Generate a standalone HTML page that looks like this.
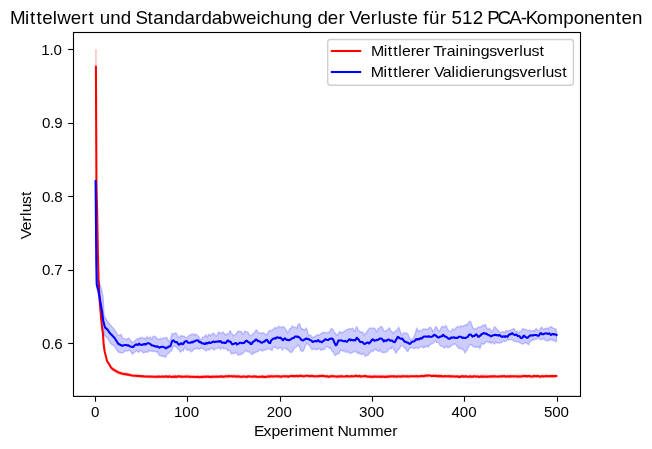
<!DOCTYPE html>
<html><head><meta charset="utf-8"><style>
html,body{margin:0;padding:0;background:#fff;width:652px;height:449px;overflow:hidden;position:relative}
svg text{font-family:"Liberation Sans",sans-serif} svg{will-change:transform}
</style></head><body>
<svg width="652" height="449" viewBox="0 0 652 449" style="position:absolute;left:0;top:0">
<rect x="0" y="0" width="652" height="449" fill="#ffffff"/>
<defs><clipPath id="ax"><rect x="73.5" y="32.5" width="507.0" height="363.9"/></clipPath></defs>
<g clip-path="url(#ax)">
<polygon points="95.00,49.13 96.90,49.13 96.45,177.31 97.20,211.35 97.90,252.92 98.60,277.98 99.60,297.68 101.07,316.17 102.00,325.33 102.90,330.89 103.70,343.50 104.77,350.40 106.00,354.53 107.00,359.10 109.00,362.46 111.00,365.32 113.10,367.20 117.80,370.26 122.50,371.67 128.00,372.45 131.80,373.89 144.10,374.72 156.30,375.15 157.22,374.85 158.15,375.05 159.07,374.27 160.00,375.15 160.92,375.10 161.84,374.46 162.77,374.80 163.69,374.89 164.62,374.39 165.54,374.67 166.46,374.50 167.39,374.77 168.31,374.78 169.24,374.54 170.16,374.30 171.08,374.71 172.01,374.92 172.93,374.62 173.85,374.29 174.78,375.26 175.70,374.54 176.63,375.29 177.55,374.51 178.47,374.86 179.40,374.79 180.32,374.53 181.25,375.30 182.17,374.22 183.09,375.07 184.02,375.18 184.94,374.54 185.87,374.80 186.79,374.19 187.71,374.86 188.64,374.85 189.56,374.80 190.49,374.86 191.41,374.39 192.33,375.24 193.26,375.19 194.18,374.73 195.11,375.43 196.03,375.12 196.95,375.00 197.88,375.17 198.80,374.62 199.73,375.37 200.65,375.22 201.57,374.75 202.50,375.61 203.42,374.34 204.34,374.48 205.27,374.79 206.19,374.76 207.12,374.89 208.04,374.52 208.96,374.68 209.89,374.90 210.81,374.88 211.74,375.21 212.66,374.85 213.58,374.48 214.51,374.44 215.43,374.50 216.36,374.46 217.28,374.76 218.20,374.87 219.13,374.93 220.05,374.73 220.98,374.65 221.90,374.80 222.82,374.85 223.75,374.74 224.67,374.77 225.60,374.01 226.52,374.81 227.44,374.49 228.37,373.88 229.29,374.17 230.22,374.52 231.14,374.38 232.06,374.37 232.99,374.77 233.91,374.24 234.83,374.05 235.76,374.32 236.68,375.12 237.61,374.29 238.53,374.50 239.45,374.78 240.38,374.59 241.30,374.88 242.23,375.24 243.15,374.62 244.07,374.76 245.00,374.76 245.92,374.77 246.85,374.94 247.77,374.74 248.69,374.90 249.62,374.41 250.54,374.48 251.47,374.80 252.39,374.68 253.31,374.81 254.24,374.13 255.16,374.91 256.09,374.57 257.01,374.98 257.93,375.47 258.86,374.72 259.78,374.51 260.71,374.62 261.63,374.72 262.55,374.81 263.48,375.00 264.40,374.78 265.32,374.93 266.25,374.71 267.17,374.30 268.10,375.02 269.02,374.08 269.94,374.47 270.87,374.59 271.79,374.04 272.72,374.20 273.64,374.45 274.56,374.51 275.49,374.64 276.41,374.39 277.34,374.22 278.26,374.47 279.18,374.85 280.11,374.71 281.03,374.55 281.96,374.39 282.88,374.57 283.80,374.17 284.73,374.72 285.65,374.55 286.58,374.50 287.50,374.56 288.42,374.66 289.35,374.74 290.27,374.07 291.20,374.25 292.12,373.91 293.04,373.87 293.97,374.30 294.89,374.26 295.81,374.38 296.74,373.84 297.66,374.72 298.59,373.88 299.51,373.70 300.43,374.06 301.36,373.90 302.28,374.29 303.21,374.14 304.13,374.55 305.05,374.31 305.98,374.06 306.90,373.95 307.83,374.17 308.75,374.59 309.67,374.32 310.60,374.16 311.52,374.06 312.45,374.03 313.37,374.69 314.29,374.79 315.22,374.80 316.14,374.61 317.07,374.72 317.99,374.04 318.91,373.77 319.84,374.50 320.76,373.86 321.69,373.88 322.61,373.58 323.53,373.92 324.46,374.49 325.38,374.78 326.30,374.37 327.23,374.27 328.15,374.90 329.08,374.86 330.00,374.68 330.92,374.33 331.85,374.28 332.77,373.90 333.70,374.33 334.62,374.48 335.54,374.98 336.47,374.68 337.39,374.84 338.32,374.51 339.24,374.31 340.16,374.84 341.09,374.12 342.01,374.42 342.94,374.69 343.86,374.50 344.78,374.64 345.71,374.65 346.63,374.04 347.56,374.78 348.48,374.56 349.40,374.82 350.33,374.31 351.25,374.34 352.18,374.49 353.10,374.74 354.02,374.20 354.95,374.03 355.87,373.76 356.79,373.86 357.72,374.41 358.64,374.14 359.57,374.11 360.49,374.15 361.41,374.73 362.34,374.60 363.26,374.20 364.19,374.80 365.11,374.29 366.03,374.03 366.96,375.06 367.88,374.64 368.81,374.41 369.73,374.57 370.65,374.61 371.58,375.07 372.50,374.68 373.43,374.36 374.35,374.56 375.27,374.52 376.20,374.45 377.12,375.03 378.05,374.46 378.97,374.81 379.89,374.49 380.82,374.86 381.74,374.73 382.67,374.55 383.59,374.51 384.51,375.10 385.44,374.70 386.36,374.63 387.29,374.57 388.21,374.61 389.13,374.33 390.06,374.65 390.98,374.68 391.90,374.77 392.83,374.66 393.75,375.00 394.68,374.11 395.60,374.70 396.52,374.65 397.45,374.25 398.37,374.10 399.30,374.78 400.22,374.28 401.14,374.40 402.07,374.17 402.99,374.42 403.92,374.23 404.84,374.40 405.76,374.67 406.69,374.19 407.61,374.30 408.54,374.33 409.46,374.61 410.38,373.95 411.31,374.73 412.23,374.48 413.16,374.46 414.08,374.64 415.00,374.17 415.93,374.37 416.85,374.38 417.78,374.38 418.70,374.59 419.62,374.55 420.55,374.57 421.47,374.22 422.39,374.49 423.32,374.24 424.24,373.96 425.17,373.81 426.09,373.48 427.01,373.95 427.94,373.80 428.86,373.97 429.79,373.89 430.71,374.11 431.63,374.43 432.56,374.12 433.48,373.52 434.41,374.02 435.33,373.71 436.25,373.74 437.18,373.97 438.10,374.11 439.03,373.77 439.95,374.65 440.87,374.04 441.80,373.91 442.72,374.77 443.65,374.91 444.57,374.19 445.49,374.48 446.42,374.12 447.34,374.67 448.27,374.36 449.19,374.19 450.11,374.29 451.04,373.96 451.96,374.41 452.88,374.80 453.81,374.33 454.73,374.77 455.66,374.79 456.58,374.83 457.50,374.65 458.43,374.76 459.35,374.74 460.28,375.23 461.20,374.53 462.12,374.32 463.05,374.25 463.97,375.22 464.90,374.84 465.82,374.34 466.74,374.81 467.67,375.02 468.59,375.17 469.52,374.14 470.44,374.39 471.36,374.67 472.29,374.39 473.21,374.97 474.14,374.21 475.06,374.45 475.98,374.44 476.91,374.98 477.83,374.42 478.76,375.05 479.68,374.71 480.60,374.63 481.53,374.59 482.45,374.58 483.37,374.10 484.30,374.78 485.22,374.53 486.15,374.26 487.07,374.36 487.99,374.74 488.92,374.40 489.84,374.70 490.77,374.69 491.69,374.66 492.61,374.51 493.54,374.49 494.46,374.49 495.39,374.30 496.31,374.93 497.23,374.85 498.16,375.01 499.08,374.69 500.01,374.65 500.93,374.19 501.85,374.60 502.78,373.94 503.70,374.77 504.63,374.25 505.55,374.71 506.47,374.94 507.40,374.09 508.32,374.42 509.25,374.93 510.17,374.35 511.09,374.29 512.02,374.30 512.94,374.56 513.86,375.00 514.79,374.61 515.71,374.47 516.64,374.18 517.56,374.64 518.48,374.23 519.41,374.78 520.33,374.33 521.26,374.36 522.18,374.11 523.10,374.03 524.03,374.27 524.95,373.81 525.88,374.38 526.80,374.86 527.72,373.96 528.65,374.42 529.57,373.74 530.50,374.39 531.42,374.77 532.34,374.44 533.27,374.12 534.19,373.98 535.12,374.00 536.04,374.24 536.96,374.07 537.89,374.40 538.81,374.22 539.74,374.91 540.66,374.93 541.58,374.45 542.51,374.11 543.43,374.58 544.35,374.19 545.28,374.55 546.20,374.36 547.13,374.25 548.05,374.03 548.97,374.57 549.90,374.17 550.82,374.64 551.75,374.28 552.67,374.46 553.59,373.99 554.52,374.65 555.44,373.97 556.37,374.27 556.37,377.69 555.44,378.11 554.52,377.88 553.59,378.27 552.67,377.94 551.75,378.19 550.82,378.14 549.90,377.81 548.97,378.01 548.05,378.42 547.13,378.23 546.20,378.09 545.28,378.31 544.35,378.19 543.43,378.21 542.51,378.02 541.58,378.03 540.66,378.91 539.74,378.44 538.81,377.70 537.89,378.40 536.96,378.08 536.04,377.86 535.12,377.75 534.19,378.03 533.27,378.18 532.34,378.69 531.42,378.42 530.50,378.51 529.57,377.64 528.65,377.94 527.72,377.95 526.80,378.45 525.88,377.88 524.95,378.31 524.03,378.03 523.10,378.17 522.18,378.35 521.26,378.53 520.33,378.09 519.41,378.80 518.48,377.74 517.56,378.41 516.64,378.22 515.71,378.52 514.79,378.12 513.86,378.55 512.94,378.62 512.02,377.95 511.09,378.32 510.17,377.94 509.25,378.40 508.32,378.43 507.40,378.04 506.47,378.59 505.55,378.55 504.63,378.17 503.70,377.96 502.78,377.88 501.85,378.39 500.93,378.48 500.01,378.22 499.08,378.23 498.16,378.45 497.23,378.01 496.31,378.37 495.39,378.42 494.46,378.53 493.54,378.46 492.61,378.42 491.69,378.16 490.77,378.73 489.84,378.35 488.92,378.16 487.99,378.57 487.07,378.18 486.15,378.39 485.22,378.47 484.30,378.54 483.37,378.10 482.45,379.05 481.53,377.96 480.60,378.52 479.68,378.76 478.76,378.69 477.83,378.05 476.91,378.36 475.98,378.95 475.06,378.25 474.14,377.88 473.21,378.21 472.29,378.74 471.36,378.78 470.44,378.52 469.52,378.44 468.59,378.99 467.67,379.11 466.74,378.13 465.82,378.33 464.90,378.60 463.97,378.29 463.05,378.40 462.12,378.10 461.20,377.94 460.28,378.95 459.35,378.85 458.43,378.53 457.50,377.95 456.58,378.10 455.66,378.23 454.73,378.57 453.81,378.11 452.88,378.10 451.96,378.06 451.04,377.91 450.11,378.36 449.19,378.40 448.27,378.31 447.34,378.00 446.42,378.08 445.49,378.39 444.57,377.74 443.65,378.13 442.72,378.67 441.80,377.90 440.87,378.11 439.95,378.21 439.03,377.69 438.10,378.23 437.18,378.24 436.25,377.79 435.33,377.58 434.41,377.62 433.48,377.19 432.56,378.10 431.63,377.98 430.71,377.76 429.79,377.31 428.86,377.72 427.94,377.67 427.01,377.85 426.09,377.70 425.17,377.33 424.24,377.95 423.32,378.51 422.39,377.76 421.47,377.51 420.55,378.60 419.62,378.43 418.70,377.83 417.78,378.63 416.85,378.01 415.93,378.36 415.00,377.89 414.08,378.27 413.16,378.10 412.23,377.93 411.31,378.10 410.38,377.90 409.46,378.23 408.54,378.71 407.61,378.12 406.69,378.23 405.76,378.32 404.84,378.08 403.92,378.24 402.99,378.61 402.07,377.80 401.14,378.64 400.22,378.21 399.30,378.55 398.37,378.09 397.45,378.23 396.52,378.78 395.60,378.50 394.68,378.05 393.75,378.65 392.83,378.31 391.90,377.89 390.98,378.16 390.06,378.35 389.13,378.50 388.21,378.75 387.29,378.85 386.36,378.66 385.44,378.62 384.51,379.09 383.59,378.39 382.67,378.64 381.74,378.16 380.82,379.06 379.89,378.58 378.97,378.28 378.05,378.18 377.12,379.01 376.20,378.22 375.27,378.19 374.35,378.36 373.43,378.66 372.50,378.80 371.58,378.87 370.65,378.23 369.73,378.87 368.81,378.66 367.88,378.48 366.96,378.76 366.03,377.82 365.11,378.09 364.19,378.13 363.26,378.05 362.34,378.29 361.41,378.02 360.49,378.56 359.57,377.69 358.64,377.88 357.72,378.07 356.79,377.91 355.87,377.94 354.95,378.00 354.02,377.99 353.10,378.23 352.18,377.84 351.25,377.75 350.33,378.29 349.40,378.65 348.48,377.78 347.56,378.59 346.63,377.74 345.71,378.36 344.78,378.51 343.86,378.49 342.94,378.46 342.01,378.59 341.09,377.58 340.16,378.70 339.24,378.14 338.32,378.64 337.39,378.57 336.47,378.17 335.54,378.28 334.62,378.27 333.70,378.31 332.77,378.33 331.85,378.02 330.92,377.95 330.00,378.43 329.08,378.34 328.15,378.69 327.23,378.24 326.30,378.26 325.38,378.28 324.46,377.97 323.53,377.63 322.61,377.89 321.69,377.81 320.76,377.57 319.84,377.94 318.91,377.86 317.99,378.10 317.07,378.10 316.14,378.38 315.22,378.25 314.29,378.05 313.37,378.17 312.45,377.45 311.52,377.98 310.60,378.17 309.67,377.50 308.75,378.39 307.83,377.51 306.90,378.05 305.98,377.96 305.05,377.74 304.13,378.43 303.21,378.49 302.28,377.91 301.36,377.33 300.43,378.01 299.51,377.36 298.59,378.28 297.66,378.36 296.74,377.87 295.81,377.87 294.89,378.01 293.97,378.08 293.04,378.03 292.12,377.54 291.20,377.66 290.27,378.22 289.35,377.88 288.42,378.72 287.50,378.42 286.58,377.93 285.65,378.23 284.73,378.35 283.80,377.87 282.88,378.38 281.96,378.85 281.03,378.80 280.11,378.47 279.18,378.68 278.26,378.01 277.34,378.19 276.41,377.80 275.49,378.46 274.56,378.12 273.64,378.60 272.72,378.17 271.79,378.27 270.87,378.02 269.94,378.72 269.02,378.27 268.10,378.64 267.17,378.72 266.25,379.13 265.32,378.64 264.40,378.50 263.48,378.94 262.55,378.23 261.63,378.60 260.71,378.74 259.78,378.74 258.86,378.99 257.93,378.76 257.01,378.45 256.09,378.62 255.16,378.31 254.24,378.61 253.31,378.39 252.39,378.99 251.47,378.22 250.54,378.08 249.62,378.21 248.69,377.91 247.77,378.65 246.85,378.93 245.92,379.11 245.00,378.54 244.07,378.71 243.15,378.53 242.23,378.95 241.30,378.86 240.38,378.70 239.45,378.84 238.53,378.38 237.61,377.92 236.68,378.85 235.76,378.49 234.83,378.16 233.91,377.90 232.99,378.47 232.06,378.01 231.14,377.70 230.22,378.07 229.29,378.56 228.37,377.65 227.44,378.83 226.52,378.11 225.60,378.41 224.67,378.60 223.75,378.85 222.82,378.84 221.90,378.53 220.98,377.77 220.05,378.57 219.13,378.25 218.20,378.61 217.28,378.34 216.36,378.61 215.43,378.73 214.51,378.80 213.58,378.65 212.66,378.66 211.74,379.14 210.81,378.28 209.89,378.96 208.96,378.49 208.04,378.10 207.12,378.51 206.19,378.14 205.27,379.17 204.34,378.62 203.42,378.14 202.50,378.79 201.57,378.99 200.65,378.75 199.73,379.34 198.80,378.88 197.88,379.19 196.95,378.19 196.03,378.71 195.11,378.79 194.18,378.65 193.26,378.77 192.33,379.00 191.41,378.34 190.49,378.82 189.56,379.17 188.64,378.44 187.71,378.73 186.79,378.21 185.87,378.40 184.94,378.36 184.02,378.35 183.09,378.64 182.17,378.61 181.25,378.53 180.32,378.23 179.40,378.28 178.47,378.37 177.55,378.77 176.63,379.14 175.70,378.33 174.78,378.74 173.85,378.69 172.93,378.26 172.01,378.92 171.08,378.97 170.16,378.09 169.24,378.40 168.31,378.89 167.39,378.73 166.46,378.30 165.54,378.69 164.62,378.24 163.69,378.21 162.77,378.54 161.84,378.22 160.92,378.87 160.00,378.45 159.07,378.35 158.15,378.97 157.22,378.66 156.30,378.89 144.10,378.07 131.80,377.19 128.00,376.13 122.50,375.59 117.80,374.14 113.10,371.64 111.00,369.65 109.00,365.79 107.00,362.59 106.00,358.56 104.77,353.99 103.70,347.09 102.90,334.53 102.00,328.69 101.07,319.56 99.60,301.82 98.60,281.81 97.90,257.34 97.20,218.66 96.45,192.78 95.90,84.85 95.00,84.85" fill="#ff0000" fill-opacity="0.2" stroke="none"/>
<polyline points="95.90,66.90 96.45,185.00 97.20,215.00 97.90,255.00 98.60,280.00 99.60,300.00 101.07,318.00 102.00,327.00 102.90,333.00 103.70,345.00 104.77,352.00 106.00,356.80 107.00,361.00 109.00,364.00 111.00,367.50 113.10,369.40 117.80,372.20 122.50,373.70 128.00,374.60 131.80,375.50 144.10,376.40 156.30,376.68 157.22,376.55 158.15,376.89 159.07,376.47 160.00,376.79 160.92,376.66 161.84,376.43 162.77,376.74 163.69,376.40 164.62,376.66 165.54,376.40 166.46,376.40 167.39,376.63 168.31,376.90 169.24,376.40 170.16,376.46 171.08,376.73 172.01,376.95 172.93,376.68 173.85,376.54 174.78,376.94 175.70,376.29 176.63,376.87 177.55,376.48 178.47,376.39 179.40,376.39 180.32,376.53 181.25,376.90 182.17,376.46 183.09,376.75 184.02,376.81 184.94,376.63 185.87,376.76 186.79,376.44 187.71,376.44 188.64,376.56 189.56,376.90 190.49,376.74 191.41,376.67 192.33,376.87 193.26,376.79 194.18,376.69 195.11,377.05 196.03,376.99 196.95,376.68 197.88,376.93 198.80,376.90 199.73,377.16 200.65,377.05 201.57,376.72 202.50,377.19 203.42,376.57 204.34,376.76 205.27,376.98 206.19,376.54 207.12,376.76 208.04,376.42 208.96,376.85 209.89,376.90 210.81,376.74 211.74,376.94 212.66,376.53 213.58,376.78 214.51,376.69 215.43,376.66 216.36,376.55 217.28,376.81 218.20,376.86 219.13,376.51 220.05,376.63 220.98,376.19 221.90,376.62 222.82,376.56 223.75,376.79 224.67,376.65 225.60,376.26 226.52,376.33 227.44,376.53 228.37,376.09 229.29,376.41 230.22,376.21 231.14,376.19 232.06,376.15 232.99,376.66 233.91,376.22 234.83,376.31 235.76,376.42 236.68,376.77 237.61,376.23 238.53,376.49 239.45,376.57 240.38,376.82 241.30,376.78 242.23,376.82 243.15,376.42 244.07,376.53 245.00,376.50 245.92,376.88 246.85,376.94 247.77,376.38 248.69,376.41 249.62,376.46 250.54,376.47 251.47,376.65 252.39,376.74 253.31,376.52 254.24,376.34 255.16,376.64 256.09,376.60 257.01,376.74 257.93,377.01 258.86,376.82 259.78,376.69 260.71,376.76 261.63,376.80 262.55,376.36 263.48,376.95 264.40,376.86 265.32,376.92 266.25,376.86 267.17,376.58 268.10,376.58 269.02,376.37 269.94,376.73 270.87,376.33 271.79,376.33 272.72,376.43 273.64,376.39 274.56,376.51 275.49,376.30 276.41,376.26 277.34,376.37 278.26,376.33 279.18,376.51 280.11,376.26 281.03,376.83 281.96,376.63 282.88,376.28 283.80,376.32 284.73,376.37 285.65,376.35 286.58,376.16 287.50,376.64 288.42,376.72 289.35,376.32 290.27,376.31 291.20,376.01 292.12,376.00 293.04,376.14 293.97,376.06 294.89,376.43 295.81,375.94 296.74,375.82 297.66,376.44 298.59,376.12 299.51,375.83 300.43,376.08 301.36,375.69 302.28,376.02 303.21,376.31 304.13,376.20 305.05,376.06 305.98,375.73 306.90,375.82 307.83,375.70 308.75,376.14 309.67,375.99 310.60,376.17 311.52,375.88 312.45,375.82 313.37,376.25 314.29,376.38 315.22,376.31 316.14,376.29 317.07,376.31 317.99,376.27 318.91,375.93 319.84,376.15 320.76,376.05 321.69,375.84 322.61,375.86 323.53,376.05 324.46,376.05 325.38,376.37 326.30,376.57 327.23,376.23 328.15,376.59 329.08,376.64 330.00,376.63 330.92,376.23 331.85,376.15 332.77,376.17 333.70,376.17 334.62,376.19 335.54,376.48 336.47,376.66 337.39,376.61 338.32,376.35 339.24,376.46 340.16,376.55 341.09,376.04 342.01,376.43 342.94,376.59 343.86,376.49 344.78,376.46 345.71,376.26 346.63,376.04 347.56,376.45 348.48,376.12 349.40,376.44 350.33,376.55 351.25,376.13 352.18,376.12 353.10,376.50 354.02,376.33 354.95,375.93 355.87,375.89 356.79,375.89 357.72,376.41 358.64,376.33 359.57,375.86 360.49,376.35 361.41,376.50 362.34,376.32 363.26,376.15 364.19,376.33 365.11,376.08 366.03,376.04 366.96,376.75 367.88,376.57 368.81,376.53 369.73,376.86 370.65,376.55 371.58,376.90 372.50,376.91 373.43,376.52 374.35,376.60 375.27,376.65 376.20,376.60 377.12,376.83 378.05,376.59 378.97,376.68 379.89,376.47 380.82,377.00 381.74,376.60 382.67,376.66 383.59,376.73 384.51,376.94 385.44,376.59 386.36,376.92 387.29,376.62 388.21,376.62 389.13,376.60 390.06,376.24 390.98,376.52 391.90,376.32 392.83,376.19 393.75,376.73 394.68,376.28 395.60,376.47 396.52,376.63 397.45,376.50 398.37,376.33 399.30,376.45 400.22,376.46 401.14,376.61 402.07,376.12 402.99,376.42 403.92,376.19 404.84,376.20 405.76,376.53 406.69,376.33 407.61,376.35 408.54,376.48 409.46,376.57 410.38,376.23 411.31,376.33 412.23,376.25 413.16,376.24 414.08,376.35 415.00,376.17 415.93,376.19 416.85,376.12 417.78,376.42 418.70,376.22 419.62,376.31 420.55,376.32 421.47,375.82 422.39,376.00 423.32,376.23 424.24,376.13 425.17,375.61 426.09,375.57 427.01,375.76 427.94,375.47 428.86,375.56 429.79,375.41 430.71,375.84 431.63,375.96 432.56,376.07 433.48,375.58 434.41,376.01 435.33,376.01 436.25,375.68 437.18,376.23 438.10,376.32 439.03,375.83 439.95,376.38 440.87,376.02 441.80,376.12 442.72,376.51 443.65,376.43 444.57,375.99 445.49,376.22 446.42,376.31 447.34,376.22 448.27,376.15 449.19,376.27 450.11,376.59 451.04,376.13 451.96,376.54 452.88,376.46 453.81,376.17 454.73,376.39 455.66,376.60 456.58,376.52 457.50,376.21 458.43,376.85 459.35,376.72 460.28,376.85 461.20,376.24 462.12,376.36 463.05,376.20 463.97,376.72 464.90,376.37 465.82,376.27 466.74,376.48 467.67,376.82 468.59,376.76 469.52,376.37 470.44,376.30 471.36,376.84 472.29,376.60 473.21,376.69 474.14,376.26 475.06,376.24 475.98,376.69 476.91,376.51 477.83,376.26 478.76,376.87 479.68,376.66 480.60,376.78 481.53,376.28 482.45,376.82 483.37,376.27 484.30,376.83 485.22,376.54 486.15,376.47 487.07,376.62 487.99,376.88 488.92,376.42 489.84,376.33 490.77,376.61 491.69,376.41 492.61,376.32 493.54,376.36 494.46,376.28 495.39,376.39 496.31,376.45 497.23,376.43 498.16,376.73 499.08,376.39 500.01,376.52 500.93,376.29 501.85,376.39 502.78,376.15 503.70,376.29 504.63,376.12 505.55,376.60 506.47,376.46 507.40,376.20 508.32,376.38 509.25,376.69 510.17,376.10 511.09,376.58 512.02,376.30 512.94,376.33 513.86,376.55 514.79,376.23 515.71,376.30 516.64,376.43 517.56,376.64 518.48,376.19 519.41,376.53 520.33,376.44 521.26,376.40 522.18,376.23 523.10,376.19 524.03,375.99 524.95,376.04 525.88,376.00 526.80,376.47 527.72,376.13 528.65,376.06 529.57,376.01 530.50,376.54 531.42,376.56 532.34,376.42 533.27,376.15 534.19,376.12 535.12,376.16 536.04,376.27 536.96,376.06 537.89,376.26 538.81,376.13 539.74,376.62 540.66,376.63 541.58,376.33 542.51,376.12 543.43,376.63 544.35,376.17 545.28,376.20 546.20,375.95 547.13,376.22 548.05,376.28 548.97,376.30 549.90,376.09 550.82,376.30 551.75,375.95 552.67,376.13 553.59,376.01 554.52,376.23 555.44,375.98 556.37,375.97" fill="none" stroke="#ff0000" stroke-width="2.08" stroke-linejoin="round" stroke-linecap="square"/>
<polygon points="95.60,181.00 96.45,266.00 97.50,278.00 100.60,285.50 103.00,296.00 103.60,305.00 104.00,315.30 107.50,321.50 114.40,329.50 118.20,335.40 121.30,334.60 122.80,338.40 125.10,338.67 126.02,339.25 126.94,339.65 127.87,338.44 128.79,337.88 129.72,339.32 130.64,340.18 131.56,342.10 132.49,342.58 133.41,341.77 134.34,341.12 135.26,340.91 136.18,339.28 137.11,338.95 138.03,338.19 138.96,339.34 139.88,337.68 140.80,338.14 141.73,337.13 142.65,337.98 143.57,338.08 144.50,338.02 145.42,339.30 146.35,337.57 147.27,336.46 148.19,338.58 149.12,338.48 150.04,336.72 150.97,338.35 151.89,339.26 152.81,336.88 153.74,336.46 154.66,335.96 155.59,336.70 156.51,338.42 157.43,338.32 158.36,339.80 159.28,339.15 160.21,338.15 161.13,339.51 162.05,338.80 162.98,337.83 163.90,337.85 164.83,337.83 165.75,337.89 166.67,337.32 167.60,339.13 168.52,341.12 169.45,341.92 170.37,339.53 171.29,335.97 172.22,333.22 173.14,333.78 174.06,334.36 174.99,333.08 175.91,332.87 176.84,334.16 177.76,335.66 178.68,337.58 179.61,337.77 180.53,335.53 181.46,336.38 182.38,335.78 183.30,335.95 184.23,336.08 185.15,337.00 186.08,337.55 187.00,337.95 187.92,336.16 188.85,335.91 189.77,334.97 190.70,335.29 191.62,333.95 192.54,333.72 193.47,334.20 194.39,335.05 195.32,333.91 196.24,334.73 197.16,335.25 198.09,335.76 199.01,337.01 199.94,339.16 200.86,339.11 201.78,339.14 202.71,337.13 203.63,337.49 204.55,336.44 205.48,334.87 206.40,335.99 207.33,337.04 208.25,334.79 209.17,334.18 210.10,335.72 211.02,335.14 211.95,334.20 212.87,333.35 213.79,333.02 214.72,334.45 215.64,335.87 216.57,336.04 217.49,334.43 218.41,332.19 219.34,332.00 220.26,333.25 221.19,333.63 222.11,332.84 223.03,331.91 223.96,333.08 224.88,334.26 225.81,335.31 226.73,333.74 227.65,334.23 228.58,334.16 229.50,331.37 230.43,330.81 231.35,333.55 232.27,333.83 233.20,335.85 234.12,335.25 235.04,334.63 235.97,334.36 236.89,332.56 237.82,331.58 238.74,331.06 239.66,331.61 240.59,331.66 241.51,331.35 242.44,334.21 243.36,334.19 244.28,331.91 245.21,330.97 246.13,331.49 247.06,331.93 247.98,332.37 248.90,334.05 249.83,335.36 250.75,335.71 251.68,335.00 252.60,333.84 253.52,333.72 254.45,332.67 255.37,330.82 256.30,329.90 257.22,330.58 258.14,332.49 259.07,333.44 259.99,332.72 260.92,333.10 261.84,333.58 262.76,332.64 263.69,332.67 264.61,333.90 265.53,334.01 266.46,335.25 267.38,333.70 268.31,331.53 269.23,330.92 270.15,330.23 271.08,330.89 272.00,330.23 272.93,329.25 273.85,329.00 274.77,327.54 275.70,327.69 276.62,328.38 277.55,327.53 278.47,326.47 279.39,326.43 280.32,326.66 281.24,327.72 282.17,327.02 283.09,326.41 284.01,327.01 284.94,328.08 285.86,329.83 286.79,330.84 287.71,332.61 288.63,331.57 289.56,328.80 290.48,328.39 291.41,327.71 292.33,325.81 293.25,327.01 294.18,327.41 295.10,327.32 296.02,327.40 296.95,327.95 297.87,325.15 298.80,323.69 299.72,323.86 300.64,326.96 301.57,329.04 302.49,328.60 303.42,329.95 304.34,329.59 305.26,329.37 306.19,328.04 307.11,329.79 308.04,333.15 308.96,335.71 309.88,334.94 310.81,335.17 311.73,336.94 312.66,337.85 313.58,336.71 314.50,336.52 315.43,336.72 316.35,335.28 317.28,334.79 318.20,334.83 319.12,335.32 320.05,334.33 320.97,333.82 321.90,332.83 322.82,333.09 323.74,332.26 324.67,332.53 325.59,332.74 326.51,332.77 327.44,332.59 328.36,332.35 329.29,332.10 330.21,330.57 331.13,328.47 332.06,328.98 332.98,329.51 333.91,331.80 334.83,333.03 335.75,333.32 336.68,335.22 337.60,335.35 338.53,333.33 339.45,331.51 340.37,332.04 341.30,332.85 342.22,332.26 343.15,332.18 344.07,331.21 344.99,331.02 345.92,330.00 346.84,329.54 347.77,329.28 348.69,328.88 349.61,328.55 350.54,329.28 351.46,328.55 352.39,328.20 353.31,328.76 354.23,331.08 355.16,330.87 356.08,327.31 357.01,326.97 357.93,329.26 358.85,330.69 359.78,330.93 360.70,332.47 361.62,332.30 362.55,331.75 363.47,333.88 364.40,335.19 365.32,333.15 366.24,333.28 367.17,331.13 368.09,329.96 369.02,328.77 369.94,328.17 370.86,327.72 371.79,328.51 372.71,328.17 373.64,327.93 374.56,328.36 375.48,329.26 376.41,331.44 377.33,330.72 378.26,328.15 379.18,328.08 380.10,327.53 381.03,326.19 381.95,326.91 382.88,328.63 383.80,330.46 384.72,331.18 385.65,331.25 386.57,330.30 387.50,329.82 388.42,328.71 389.34,327.78 390.27,329.33 391.19,331.37 392.11,331.88 393.04,333.28 393.96,332.07 394.89,331.53 395.81,330.65 396.73,330.20 397.66,328.91 398.58,327.25 399.51,329.08 400.43,331.80 401.35,334.34 402.28,334.98 403.20,333.48 404.13,332.61 405.05,332.87 405.97,333.10 406.90,333.23 407.82,333.69 408.75,336.10 409.67,337.91 410.59,340.08 411.52,339.41 412.44,338.98 413.37,338.18 414.29,335.71 415.21,333.94 416.14,329.79 417.06,328.16 417.99,330.95 418.91,331.41 419.83,330.29 420.76,330.92 421.68,330.32 422.60,329.75 423.53,328.86 424.45,329.22 425.38,328.97 426.30,329.08 427.22,329.61 428.15,329.11 429.07,327.54 430.00,327.26 430.92,327.85 431.84,328.78 432.77,331.37 433.69,330.42 434.62,329.25 435.54,326.71 436.46,326.89 437.39,328.58 438.31,330.31 439.24,331.18 440.16,330.07 441.08,327.84 442.01,326.36 442.93,326.61 443.86,327.33 444.78,326.51 445.70,325.41 446.63,326.68 447.55,328.86 448.48,330.14 449.40,331.42 450.32,331.53 451.25,331.25 452.17,329.22 453.09,328.75 454.02,330.03 454.94,329.69 455.87,327.81 456.79,327.27 457.71,326.33 458.64,327.23 459.56,327.45 460.49,325.80 461.41,325.99 462.33,326.42 463.26,326.24 464.18,325.51 465.11,324.89 466.03,324.55 466.95,325.35 467.88,323.53 468.80,322.18 469.73,321.37 470.65,321.67 471.57,324.37 472.50,326.65 473.42,328.80 474.35,328.69 475.27,328.32 476.19,329.44 477.12,328.16 478.04,327.03 478.97,327.54 479.89,326.91 480.81,326.60 481.74,326.82 482.66,325.22 483.58,325.75 484.51,324.76 485.43,324.52 486.36,326.97 487.28,328.97 488.20,329.18 489.13,328.26 490.05,329.10 490.98,329.85 491.90,331.90 492.82,331.10 493.75,327.94 494.67,326.77 495.60,327.44 496.52,328.73 497.44,329.52 498.37,331.31 499.29,331.32 500.22,332.60 501.14,332.49 502.06,331.97 502.99,331.52 503.91,332.03 504.84,332.32 505.76,330.76 506.68,330.56 507.61,331.18 508.53,330.59 509.46,330.44 510.38,330.25 511.30,330.17 512.23,329.11 513.15,328.85 514.07,328.39 515.00,330.60 515.92,331.80 516.85,330.96 517.77,332.28 518.69,333.19 519.62,331.49 520.54,331.61 521.47,330.64 522.39,329.04 523.31,328.59 524.24,329.50 525.16,329.34 526.09,329.45 527.01,330.20 527.93,330.72 528.86,330.35 529.78,329.84 530.71,331.41 531.63,330.93 532.55,330.40 533.48,330.61 534.40,331.35 535.33,329.47 536.25,328.39 537.17,329.86 538.10,330.54 539.02,330.39 539.95,329.10 540.87,327.89 541.79,327.12 542.72,328.76 543.64,329.32 544.56,328.58 545.49,328.92 546.41,327.86 547.34,327.88 548.26,329.20 549.18,327.43 550.11,327.37 551.03,326.57 551.96,327.36 552.88,327.87 553.80,328.39 554.73,328.83 555.65,328.71 556.58,330.63 556.58,341.59 555.65,341.74 554.73,340.34 553.80,340.88 552.88,340.42 551.96,338.94 551.03,340.29 550.11,339.30 549.18,340.80 548.26,340.03 547.34,340.91 546.41,340.98 545.49,340.30 544.56,339.80 543.64,338.28 542.72,339.17 541.79,339.46 540.87,339.83 539.95,339.55 539.02,338.12 538.10,337.95 537.17,339.17 536.25,339.32 535.33,339.47 534.40,338.84 533.48,340.19 532.55,339.66 531.63,340.91 530.71,340.53 529.78,341.88 528.86,344.61 527.93,344.04 527.01,343.43 526.09,342.67 525.16,342.82 524.24,343.59 523.31,343.84 522.39,344.27 521.47,343.55 520.54,343.23 519.62,342.72 518.69,341.74 517.77,341.63 516.85,341.93 515.92,341.18 515.00,341.42 514.07,341.33 513.15,340.25 512.23,340.14 511.30,339.48 510.38,339.57 509.46,339.96 508.53,340.30 507.61,338.94 506.68,340.35 505.76,341.41 504.84,341.75 503.91,341.16 502.99,341.53 502.06,342.21 501.14,342.21 500.22,343.15 499.29,343.35 498.37,342.68 497.44,342.97 496.52,342.84 495.60,342.25 494.67,344.07 493.75,343.58 492.82,342.12 491.90,342.38 490.98,343.70 490.05,341.86 489.13,342.46 488.20,342.50 487.28,341.33 486.36,342.06 485.43,342.83 484.51,343.38 483.58,344.32 482.66,343.93 481.74,343.66 480.81,346.22 479.89,348.71 478.97,346.75 478.04,347.35 477.12,346.83 476.19,346.89 475.27,347.45 474.35,346.59 473.42,346.86 472.50,346.11 471.57,344.68 470.65,344.81 469.73,344.57 468.80,346.36 467.88,348.28 466.95,350.46 466.03,351.32 465.11,352.96 464.18,351.23 463.26,349.51 462.33,349.52 461.41,348.33 460.49,348.83 459.56,347.89 458.64,348.44 457.71,346.94 456.79,346.00 455.87,344.55 454.94,344.07 454.02,343.91 453.09,344.81 452.17,345.38 451.25,345.33 450.32,347.11 449.40,346.97 448.48,347.64 447.55,347.70 446.63,346.02 445.70,346.80 444.78,348.16 443.86,347.50 442.93,346.87 442.01,346.43 441.08,346.20 440.16,345.82 439.24,344.02 438.31,342.36 437.39,342.19 436.46,342.44 435.54,340.53 434.62,341.72 433.69,342.83 432.77,343.62 431.84,343.62 430.92,344.51 430.00,344.87 429.07,346.00 428.15,347.33 427.22,345.48 426.30,346.58 425.38,347.33 424.45,346.63 423.53,348.06 422.60,346.66 421.68,346.81 420.76,346.75 419.83,347.07 418.91,347.61 417.99,348.88 417.06,347.97 416.14,347.38 415.21,347.95 414.29,348.86 413.37,348.14 412.44,348.00 411.52,347.69 410.59,347.99 409.67,347.98 408.75,349.81 407.82,351.56 406.90,351.22 405.97,349.13 405.05,348.03 404.13,347.94 403.20,346.23 402.28,345.80 401.35,345.57 400.43,346.99 399.51,348.31 398.58,349.66 397.66,350.27 396.73,352.53 395.81,353.02 394.89,351.07 393.96,349.96 393.04,347.86 392.11,346.69 391.19,348.88 390.27,349.06 389.34,348.29 388.42,349.65 387.50,351.23 386.57,352.11 385.65,352.41 384.72,352.31 383.80,352.48 382.88,352.40 381.95,352.48 381.03,351.18 380.10,349.69 379.18,351.39 378.26,351.14 377.33,350.39 376.41,350.41 375.48,349.10 374.56,349.86 373.64,350.87 372.71,351.72 371.79,350.80 370.86,351.15 369.94,352.95 369.02,353.50 368.09,355.11 367.17,355.32 366.24,355.74 365.32,356.62 364.40,354.63 363.47,353.30 362.55,354.15 361.62,354.72 360.70,353.54 359.78,353.89 358.85,352.42 357.93,353.67 357.01,352.08 356.08,352.29 355.16,351.35 354.23,351.01 353.31,352.59 352.39,352.13 351.46,352.95 350.54,353.58 349.61,352.83 348.69,352.80 347.77,351.36 346.84,352.11 345.92,352.48 344.99,350.85 344.07,351.48 343.15,350.57 342.22,350.91 341.30,350.13 340.37,350.38 339.45,352.67 338.53,353.97 337.60,353.49 336.68,354.18 335.75,355.46 334.83,355.22 333.91,353.80 332.98,351.60 332.06,351.46 331.13,349.40 330.21,347.46 329.29,348.56 328.36,347.16 327.44,346.94 326.51,346.58 325.59,347.37 324.67,349.23 323.74,349.70 322.82,348.89 321.90,350.09 320.97,350.46 320.05,348.30 319.12,348.53 318.20,349.51 317.28,348.73 316.35,349.89 315.43,349.81 314.50,348.90 313.58,348.78 312.66,349.76 311.73,349.35 310.81,348.07 309.88,346.15 308.96,344.64 308.04,344.61 307.11,342.95 306.19,344.35 305.26,346.03 304.34,348.75 303.42,350.92 302.49,350.81 301.57,351.29 300.64,350.33 299.72,347.77 298.80,345.39 297.87,345.04 296.95,346.59 296.02,347.25 295.10,347.72 294.18,348.52 293.25,349.89 292.33,351.72 291.41,352.31 290.48,352.56 289.56,351.44 288.63,350.43 287.71,349.39 286.79,349.83 285.86,348.19 284.94,347.97 284.01,348.32 283.09,348.90 282.17,350.10 281.24,347.90 280.32,347.16 279.39,347.75 278.47,349.02 277.55,348.91 276.62,347.78 275.70,347.88 274.77,346.62 273.85,347.42 272.93,347.77 272.00,350.47 271.08,350.00 270.15,349.15 269.23,349.03 268.31,348.55 267.38,348.83 266.46,349.71 265.53,349.44 264.61,350.07 263.69,350.79 262.76,349.98 261.84,351.05 260.92,349.61 259.99,350.30 259.07,350.38 258.14,351.18 257.22,352.06 256.30,351.88 255.37,352.29 254.45,353.20 253.52,352.37 252.60,354.52 251.68,354.46 250.75,352.82 249.83,352.70 248.90,351.71 247.98,351.87 247.06,351.13 246.13,350.83 245.21,351.22 244.28,352.20 243.36,352.77 242.44,353.07 241.51,354.78 240.59,354.19 239.66,354.07 238.74,355.37 237.82,355.12 236.89,353.27 235.97,352.22 235.04,353.23 234.12,353.77 233.20,353.14 232.27,353.67 231.35,354.06 230.43,352.07 229.50,350.54 228.58,350.07 227.65,350.93 226.73,349.20 225.81,348.77 224.88,348.24 223.96,348.97 223.03,347.97 222.11,347.64 221.19,348.20 220.26,349.33 219.34,347.00 218.41,347.70 217.49,348.62 216.57,348.50 215.64,348.26 214.72,349.68 213.79,349.80 212.87,349.25 211.95,347.93 211.02,348.35 210.10,349.08 209.17,350.16 208.25,349.25 207.33,349.93 206.40,350.82 205.48,350.80 204.55,349.36 203.63,349.17 202.71,348.66 201.78,348.23 200.86,347.84 199.94,349.01 199.01,349.18 198.09,349.05 197.16,347.64 196.24,348.70 195.32,348.53 194.39,349.39 193.47,348.94 192.54,351.07 191.62,351.72 190.70,351.55 189.77,350.13 188.85,349.51 187.92,350.43 187.00,350.33 186.08,348.80 185.15,347.10 184.23,348.46 183.30,350.96 182.38,350.44 181.46,350.77 180.53,352.31 179.61,351.23 178.68,349.50 177.76,349.12 176.84,347.80 175.91,346.98 174.99,346.39 174.06,345.66 173.14,346.68 172.22,349.45 171.29,351.18 170.37,351.54 169.45,352.36 168.52,353.66 167.60,353.80 166.67,355.09 165.75,357.10 164.83,357.06 163.90,355.91 162.98,356.73 162.05,355.87 161.13,356.08 160.21,356.07 159.28,355.08 158.36,353.70 157.43,351.67 156.51,351.95 155.59,351.78 154.66,351.31 153.74,351.27 152.81,351.49 151.89,351.25 150.97,350.86 150.04,351.12 149.12,350.36 148.19,352.05 147.27,352.27 146.35,351.93 145.42,352.21 144.50,352.40 143.57,352.86 142.65,352.45 141.73,350.92 140.80,350.70 139.88,350.57 138.96,352.19 138.03,352.04 137.11,350.84 136.18,350.96 135.26,351.74 134.34,352.63 133.41,352.95 132.49,354.44 131.56,352.76 130.64,351.48 129.72,350.45 128.79,350.00 127.87,350.96 126.94,351.11 126.02,351.14 125.10,350.93 122.80,353.00 118.20,352.20 114.40,346.10 110.60,343.80 107.50,338.00 104.40,335.40 103.30,327.00 102.10,317.00 100.10,305.00 98.50,295.00 96.70,287.00 95.60,181.00" fill="#0000ff" fill-opacity="0.2" stroke="#0000ff" stroke-opacity="0.2" stroke-width="1.39"/>
<polyline points="95.60,181.00 96.30,262.00 96.70,284.50 98.50,291.00 100.10,300.00 102.10,312.00 103.30,321.00 104.50,325.50 105.20,327.60 107.50,329.60 109.40,332.50 111.30,334.60 114.40,337.70 116.50,341.00 118.20,343.80 122.10,345.70 125.10,345.01 126.02,344.94 126.94,345.38 127.87,345.19 128.79,345.55 129.72,346.34 130.64,346.44 131.56,346.96 132.49,346.98 133.41,346.90 134.34,345.57 135.26,344.95 136.18,344.38 137.11,344.89 138.03,344.96 138.96,343.66 139.88,344.34 140.80,344.95 141.73,344.73 142.65,344.71 143.57,344.26 144.50,343.97 145.42,344.61 146.35,343.91 147.27,343.38 148.19,343.18 149.12,343.18 150.04,343.95 150.97,344.52 151.89,345.38 152.81,345.50 153.74,345.79 154.66,346.01 155.59,346.49 156.51,346.65 157.43,346.29 158.36,347.17 159.28,347.64 160.21,347.34 161.13,346.98 162.05,346.74 162.98,346.77 163.90,347.25 164.83,347.42 165.75,348.35 166.67,347.71 167.60,347.50 168.52,346.54 169.45,346.50 170.37,346.22 171.29,343.50 172.22,341.09 173.14,340.33 174.06,340.87 174.99,341.98 175.91,342.17 176.84,341.99 177.76,343.33 178.68,344.73 179.61,344.58 180.53,343.55 181.46,343.40 182.38,344.16 183.30,343.86 184.23,342.26 185.15,341.48 186.08,341.12 187.00,341.33 187.92,342.78 188.85,342.78 189.77,342.78 190.70,342.69 191.62,342.02 192.54,342.39 193.47,341.55 194.39,341.52 195.32,340.77 196.24,340.49 197.16,340.41 198.09,340.48 199.01,341.71 199.94,342.21 200.86,342.06 201.78,343.28 202.71,343.43 203.63,343.32 204.55,344.00 205.48,343.88 206.40,342.75 207.33,343.53 208.25,342.95 209.17,342.35 210.10,343.07 211.02,342.70 211.95,342.23 212.87,341.76 213.79,341.51 214.72,342.15 215.64,341.80 216.57,341.82 217.49,341.49 218.41,341.19 219.34,341.75 220.26,341.16 221.19,341.54 222.11,342.79 223.03,342.74 223.96,342.45 224.88,343.06 225.81,343.00 226.73,341.58 227.65,340.57 228.58,340.85 229.50,341.79 230.43,341.67 231.35,343.08 232.27,344.32 233.20,343.99 234.12,343.65 235.04,343.18 235.97,342.98 236.89,344.46 237.82,343.97 238.74,343.60 239.66,342.74 240.59,342.73 241.51,343.16 242.44,343.15 243.36,342.75 244.28,342.85 245.21,341.66 246.13,340.79 247.06,340.78 247.98,341.99 248.90,342.58 249.83,342.63 250.75,344.07 251.68,343.90 252.60,342.20 253.52,341.56 254.45,341.13 255.37,339.81 256.30,339.52 257.22,340.32 258.14,341.20 259.07,341.12 259.99,341.57 260.92,342.42 261.84,342.76 262.76,342.15 263.69,341.78 264.61,341.45 265.53,340.52 266.46,339.84 267.38,340.21 268.31,342.04 269.23,342.90 270.15,343.00 271.08,340.63 272.00,339.69 272.93,338.77 273.85,338.73 274.77,338.09 275.70,338.59 276.62,337.50 277.55,337.30 278.47,337.73 279.39,337.92 280.32,337.60 281.24,338.37 282.17,339.71 283.09,340.22 284.01,338.85 284.94,338.31 285.86,339.32 286.79,339.96 287.71,339.78 288.63,340.11 289.56,340.16 290.48,339.43 291.41,338.95 292.33,338.28 293.25,337.96 294.18,337.69 295.10,336.45 296.02,336.43 296.95,336.92 297.87,336.55 298.80,337.25 299.72,337.68 300.64,339.00 301.57,340.08 302.49,340.36 303.42,340.48 304.34,339.28 305.26,339.35 306.19,338.41 307.11,338.78 308.04,339.31 308.96,339.12 309.88,339.92 310.81,340.25 311.73,340.85 312.66,341.98 313.58,341.79 314.50,341.03 315.43,341.00 316.35,341.51 317.28,340.80 318.20,340.11 319.12,341.38 320.05,341.82 320.97,341.55 321.90,342.32 322.82,341.32 323.74,340.82 324.67,339.79 325.59,339.20 326.51,339.73 327.44,340.07 328.36,340.00 329.29,339.12 330.21,338.95 331.13,338.59 332.06,338.48 332.98,339.29 333.91,341.42 334.83,343.54 335.75,345.19 336.68,344.85 337.60,342.55 338.53,340.41 339.45,340.52 340.37,340.53 341.30,340.36 342.22,340.68 343.15,341.20 344.07,341.22 344.99,340.91 345.92,341.40 346.84,341.82 347.77,340.95 348.69,339.80 349.61,339.26 350.54,340.31 351.46,339.71 352.39,340.11 353.31,340.42 354.23,339.95 355.16,340.37 356.08,338.87 357.01,337.77 357.93,339.14 358.85,339.71 359.78,341.58 360.70,342.09 361.62,341.91 362.55,342.10 363.47,343.31 364.40,343.88 365.32,343.67 366.24,343.12 367.17,342.65 368.09,342.65 369.02,343.45 369.94,342.55 370.86,341.47 371.79,340.10 372.71,339.21 373.64,339.93 374.56,340.78 375.48,340.31 376.41,340.20 377.33,339.82 378.26,339.76 379.18,339.11 380.10,338.47 381.03,338.48 381.95,338.91 382.88,340.10 383.80,341.44 384.72,340.34 385.65,340.80 386.57,340.93 387.50,339.70 388.42,339.55 389.34,339.87 390.27,340.70 391.19,340.43 392.11,340.63 393.04,341.56 393.96,341.98 394.89,342.12 395.81,340.18 396.73,338.78 397.66,336.92 398.58,337.31 399.51,338.25 400.43,338.47 401.35,338.86 402.28,338.59 403.20,339.89 404.13,341.18 405.05,341.88 405.97,341.87 406.90,342.57 407.82,342.60 408.75,343.37 409.67,343.96 410.59,343.39 411.52,342.11 412.44,341.74 413.37,341.46 414.29,341.16 415.21,340.26 416.14,339.14 417.06,339.75 417.99,339.01 418.91,339.34 419.83,338.68 420.76,338.13 421.68,338.61 422.60,337.66 423.53,336.86 424.45,336.55 425.38,336.52 426.30,336.77 427.22,336.55 428.15,336.75 429.07,336.18 430.00,336.71 430.92,336.92 431.84,336.63 432.77,336.26 433.69,335.21 434.62,334.77 435.54,335.52 436.46,335.99 437.39,337.10 438.31,337.62 439.24,337.37 440.16,336.54 441.08,336.54 442.01,336.22 442.93,334.75 443.86,335.54 444.78,336.54 445.70,336.50 446.63,337.19 447.55,337.62 448.48,338.80 449.40,338.78 450.32,338.50 451.25,337.30 452.17,337.87 453.09,337.60 454.02,337.22 454.94,337.86 455.87,337.93 456.79,337.78 457.71,337.92 458.64,336.86 459.56,336.82 460.49,336.71 461.41,337.15 462.33,337.98 463.26,337.54 464.18,337.91 465.11,338.10 466.03,337.57 466.95,337.30 467.88,336.64 468.80,335.00 469.73,334.50 470.65,334.55 471.57,335.46 472.50,336.61 473.42,335.92 474.35,335.98 475.27,335.02 476.19,334.39 477.12,335.05 478.04,336.65 478.97,336.83 479.89,335.77 480.81,335.35 481.74,333.94 482.66,333.66 483.58,333.07 484.51,333.45 485.43,333.61 486.36,333.60 487.28,334.31 488.20,334.89 489.13,335.20 490.05,335.69 490.98,336.36 491.90,336.02 492.82,335.21 493.75,335.29 494.67,335.02 495.60,334.73 496.52,335.26 497.44,335.27 498.37,335.59 499.29,334.97 500.22,335.60 501.14,336.43 502.06,336.97 502.99,336.50 503.91,336.22 504.84,336.94 505.76,336.14 506.68,336.59 507.61,336.82 508.53,335.18 509.46,334.25 510.38,334.54 511.30,333.68 512.23,333.09 513.15,334.34 514.07,334.54 515.00,335.05 515.92,334.59 516.85,334.89 517.77,336.10 518.69,335.89 519.62,336.25 520.54,337.69 521.47,338.14 522.39,337.82 523.31,336.00 524.24,335.66 525.16,336.88 526.09,337.24 527.01,337.87 527.93,337.53 528.86,336.44 529.78,335.86 530.71,335.23 531.63,335.40 532.55,335.19 533.48,335.41 534.40,335.02 535.33,334.96 536.25,334.93 537.17,335.51 538.10,335.83 539.02,335.46 539.95,333.78 540.87,332.98 541.79,334.22 542.72,334.08 543.64,334.09 544.56,333.59 545.49,333.40 546.41,333.50 547.34,333.56 548.26,333.92 549.18,333.34 550.11,334.10 551.03,335.01 551.96,334.27 552.88,334.01 553.80,334.47 554.73,334.15 555.65,334.42 556.58,335.05" fill="none" stroke="#0000ff" stroke-width="2.08" stroke-linejoin="round" stroke-linecap="square"/>
</g>
<rect x="73.5" y="32.5" width="507.00" height="363.90" fill="none" stroke="#000" stroke-width="1.11" stroke-linejoin="miter"/>
<line x1="95.50" y1="396.40" x2="95.50" y2="401.70" stroke="#000" stroke-width="1.11"/>
<line x1="187.50" y1="396.40" x2="187.50" y2="401.70" stroke="#000" stroke-width="1.11"/>
<line x1="280.50" y1="396.40" x2="280.50" y2="401.70" stroke="#000" stroke-width="1.11"/>
<line x1="372.50" y1="396.40" x2="372.50" y2="401.70" stroke="#000" stroke-width="1.11"/>
<line x1="464.50" y1="396.40" x2="464.50" y2="401.70" stroke="#000" stroke-width="1.11"/>
<line x1="557.50" y1="396.40" x2="557.50" y2="401.70" stroke="#000" stroke-width="1.11"/>
<line x1="68.20" y1="343.50" x2="73.50" y2="343.50" stroke="#000" stroke-width="1.11"/>
<line x1="68.20" y1="270.50" x2="73.50" y2="270.50" stroke="#000" stroke-width="1.11"/>
<line x1="68.20" y1="196.50" x2="73.50" y2="196.50" stroke="#000" stroke-width="1.11"/>
<line x1="68.20" y1="123.50" x2="73.50" y2="123.50" stroke="#000" stroke-width="1.11"/>
<line x1="68.20" y1="49.50" x2="73.50" y2="49.50" stroke="#000" stroke-width="1.11"/>
<text x="-0.03" y="0" transform="translate(91.02,417.00) scale(1.0300,1)" font-family="Liberation Sans, sans-serif" font-size="14.7" fill="#000">0</text>
<text x="-0.03 8.08 16.19" y="0" transform="translate(174.05,417.00) scale(1.0300,1)" font-family="Liberation Sans, sans-serif" font-size="14.7" fill="#000">100</text>
<text x="-0.03 8.08 16.19" y="0" transform="translate(266.74,417.00) scale(1.0300,1)" font-family="Liberation Sans, sans-serif" font-size="14.7" fill="#000">200</text>
<text x="-0.03 8.08 16.19" y="0" transform="translate(359.14,417.00) scale(1.0300,1)" font-family="Liberation Sans, sans-serif" font-size="14.7" fill="#000">300</text>
<text x="-0.03 8.08 16.19" y="0" transform="translate(451.53,417.00) scale(1.0300,1)" font-family="Liberation Sans, sans-serif" font-size="14.7" fill="#000">400</text>
<text x="-0.03 8.08 16.19" y="0" transform="translate(543.93,417.00) scale(1.0300,1)" font-family="Liberation Sans, sans-serif" font-size="14.7" fill="#000">500</text>
<text x="-0.09 7.93 11.88" y="0" transform="translate(42.10,349.00) scale(1.0300,1)" font-family="Liberation Sans, sans-serif" font-size="14.7" fill="#000">0.6</text>
<text x="-0.09 7.93 11.88" y="0" transform="translate(42.10,275.00) scale(1.0300,1)" font-family="Liberation Sans, sans-serif" font-size="14.7" fill="#000">0.7</text>
<text x="-0.09 7.93 11.88" y="0" transform="translate(42.10,202.00) scale(1.0300,1)" font-family="Liberation Sans, sans-serif" font-size="14.7" fill="#000">0.8</text>
<text x="-0.09 7.93 11.88" y="0" transform="translate(42.10,128.00) scale(1.0300,1)" font-family="Liberation Sans, sans-serif" font-size="14.7" fill="#000">0.9</text>
<text x="-0.09 7.93 11.88" y="0" transform="translate(41.30,55.00) scale(1.0300,1)" font-family="Liberation Sans, sans-serif" font-size="14.7" fill="#000">1.0</text>
<text x="-0.64 13.76 18.52 24.69 30.13 40.12 44.29 57.03 67.08 73.88 79.47 84.47 94.43 104.40 114.37 118.40 129.93 135.35 145.14 155.11 164.93 174.82 180.91 190.72 200.53 210.46 223.20 233.20 237.23 246.03 256.00 265.96 275.94 285.90 290.90 300.72 310.78 317.00 321.30 331.40 341.45 347.85 352.04 361.62 370.77 376.21 386.03 391.29 396.56 406.76 412.98 418.00 428.01 438.00 447.97 451.75 461.49 472.67 483.69 488.31 498.87 508.87 523.98 533.77 543.57 553.39 563.21 573.73 579.18 589.00" y="0" transform="translate(10.55,23.75) scale(1.0550,1)" font-family="Liberation Sans, sans-serif" font-size="17.8" fill="#000">Mittelwert und Standardabweichung der Verluste für 512 PCA-Komponenten</text>
<text x="-0.85 7.98 15.23 23.04 31.05 36.15 39.58 51.49 59.29 67.70 72.12 75.59 85.41 93.46 105.62 117.55 125.56" y="0" transform="translate(254.85,435.70) scale(1.0950,1)" font-family="Liberation Sans, sans-serif" font-size="14.4" fill="#000">Experiment Nummer</text>
<text x="-0.58 7.52 15.59 20.73 24.08 31.77 39.12" y="0" transform="translate(31.00,238.55) rotate(-90) scale(1.0900,1)" font-family="Liberation Sans, sans-serif" font-size="14.4" fill="#000">Verlust</text>
<rect x="327.7" y="39.5" width="245.70" height="45.70" rx="2.8" ry="2.8" fill="#ffffff" fill-opacity="0.8" stroke="#d0d0d0" stroke-width="1.39"/>
<line x1="330.8" y1="51.0" x2="361.2" y2="51.0" stroke="#ff0000" stroke-width="2.08"/>
<line x1="330.8" y1="72.0" x2="361.2" y2="72.0" stroke="#0000ff" stroke-width="2.08"/>
<text x="-0.57 11.09 14.93 19.91 24.55 27.80 35.79 40.53 48.67 53.82 56.50 63.79 68.66 76.74 80.10 88.29 91.66 99.70 107.43 114.49 121.73 129.86 135.03 138.39 146.13 153.53" y="0" transform="translate(371.50,55.80) scale(1.0950,1)" font-family="Liberation Sans, sans-serif" font-size="14.5" fill="#000">Mittlerer Trainingsverlust</text>
<text x="-0.59 11.05 14.87 19.84 24.46 27.69 35.65 40.38 48.49 53.49 57.06 65.03 73.07 76.58 79.93 88.12 91.34 99.45 104.43 112.44 120.46 128.17 135.20 142.42 150.53 155.68 159.02 166.72 174.10" y="0" transform="translate(371.50,76.90) scale(1.0950,1)" font-family="Liberation Sans, sans-serif" font-size="14.5" fill="#000">Mittlerer Validierungsverlust</text>
</svg>
</body></html>
